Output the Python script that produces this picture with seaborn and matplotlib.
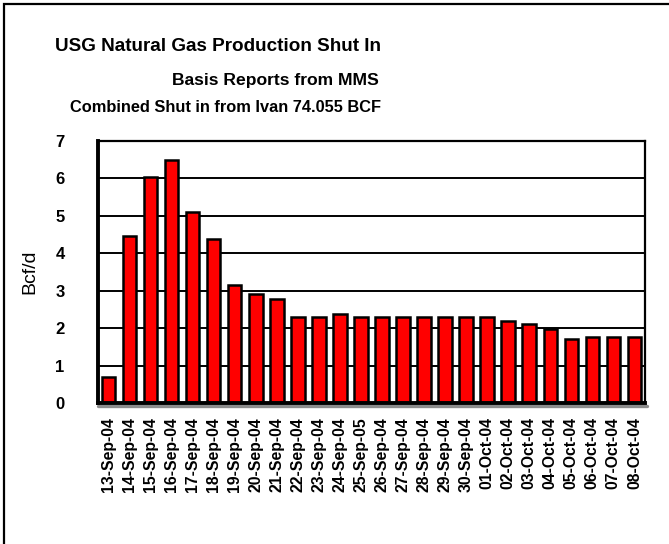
"""
Bar chart of USG natural gas production shut in after Hurricane Ivan.
Saves out.png (669x544).
"""

import matplotlib
matplotlib.use("Agg")
import matplotlib.pyplot as plt
from matplotlib.patches import Rectangle
from matplotlib.transforms import offset_copy
import seaborn as sns
import pandas as pd

dates = [
    "13-Sep-04", "14-Sep-04", "15-Sep-04", "16-Sep-04", "17-Sep-04",
    "18-Sep-04", "19-Sep-04", "20-Sep-04", "21-Sep-04", "22-Sep-04",
    "23-Sep-04", "24-Sep-04", "25-Sep-05", "26-Sep-04", "27-Sep-04",
    "28-Sep-04", "29-Sep-04", "30-Sep-04", "01-Oct-04", "02-Oct-04",
    "03-Oct-04", "04-Oct-04", "05-Oct-04", "06-Oct-04", "07-Oct-04",
    "08-Oct-04",
]
shut_in = [
    0.70, 4.45, 6.05, 6.48, 5.09, 4.39, 3.16, 2.90, 2.79, 2.31,
    2.31, 2.37, 2.31, 2.31, 2.31, 2.31, 2.31, 2.31, 2.31, 2.20,
    2.10, 1.97, 1.72, 1.77, 1.77, 1.77,
]
y_ticks = [0, 1, 2, 3, 4, 5, 6, 7]

title_lines = [
    "USG Natural Gas Production Shut In",
    "Basis Reports from MMS",
    "Combined Shut in from Ivan 74.055 BCF",
]

sns.set_theme(style="white")
plt.rcParams["font.family"] = ["Liberation Sans", "DejaVu Sans"]
for key in ["text.color", "axes.labelcolor", "xtick.color", "ytick.color"]:
    plt.rcParams[key] = "black"

df = pd.DataFrame({"date": dates, "bcfd": shut_in})

fig = plt.figure(figsize=(6.69, 5.44), dpi=100)
ax = fig.add_axes([0.1465, 0.2592, 0.8175, 0.4816])

ax.set_axisbelow(True)
ax.yaxis.grid(True, color="black", linewidth=1.4)
sns.barplot(data=df, x="date", y="bcfd", color="#ff0000", saturation=1,
            width=0.64, edgecolor="black", linewidth=1.8, ax=ax, zorder=3)

ax.set_ylim(0, 7)
ax.set_xlim(-0.5, len(dates) - 0.5)
ax.set_yticks(y_ticks)
ax.set_yticklabels([str(t) for t in y_ticks], fontsize=12, fontweight="bold")
ax.set_xticks(range(len(dates)))
ax.set_xticklabels(dates, rotation=90, fontsize=11.3, fontweight="bold")
ax.tick_params(axis="y", length=0, pad=24)
ax.tick_params(axis="x", length=0, pad=10)
ax.set_xlabel("")
ax.set_ylabel("Bcf/d", fontsize=14, labelpad=12)

for side in ["left", "bottom"]:
    ax.spines[side].set_linewidth(2.8)
    ax.spines[side].set_color("black")
for side in ["top", "right"]:
    ax.spines[side].set_linewidth(1.6)
    ax.spines[side].set_color("black")
ax.spines["bottom"].set_zorder(5)

# gray shadow under the category axis
shadow = offset_copy(ax.transAxes, fig=fig, y=-2.8, units="dots")
ax.plot([0, 1.003], [0, 0], transform=shadow, color="#8c8c8c",
        linewidth=2.4, clip_on=False, zorder=4)

# the three title lines share a right edge
fig.text(0.569, 0.906, title_lines[0], ha="right", va="baseline",
         fontsize=13.6, fontweight="bold")
fig.text(0.567, 0.844, title_lines[1], ha="right", va="baseline",
         fontsize=12.6, fontweight="bold")
fig.text(0.569, 0.794, title_lines[2], ha="right", va="baseline",
         fontsize=11.8, fontweight="bold")

# frame around the chart (cut off at right and bottom in the original)
fig.add_artist(Rectangle((0.0067, -0.05), 1.2, 1.0426, transform=fig.transFigure,
                         fill=False, edgecolor="black", linewidth=1.6))

fig.savefig("out.png", dpi=100)
